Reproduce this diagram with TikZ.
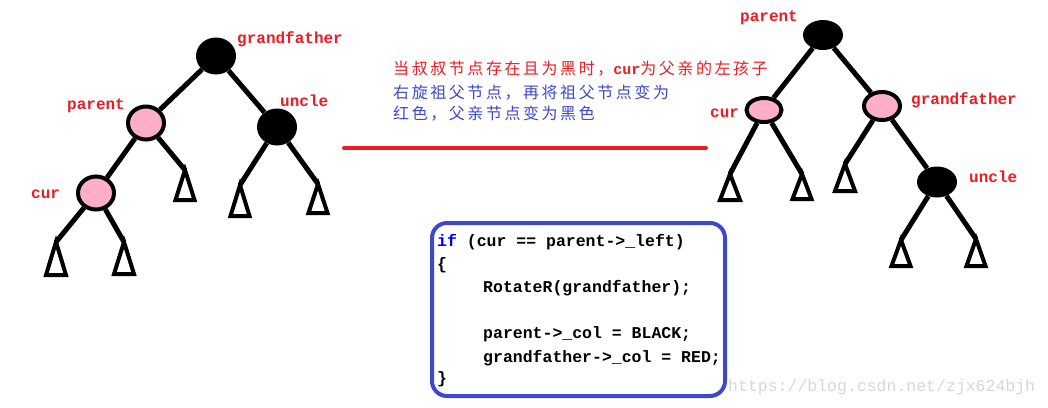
\documentclass[tikz,border=0pt]{standalone}
\usepackage{fontspec}
\usetikzlibrary{shapes.geometric}
\newfontfamily\cjk[LetterSpace=16]{Noto Sans CJK SC}
\newfontfamily\mono{Liberation Mono}
\definecolor{pred}{RGB}{237,28,36}
\definecolor{pblue}{RGB}{63,72,204}
\definecolor{ppink}{RGB}{255,174,201}
\definecolor{kwblue}{RGB}{0,0,255}
\definecolor{wmgray}{RGB}{215,215,215}
\begin{document}
\begin{tikzpicture}[x=1pt,y=-1pt,
  pinknode/.style={ellipse, draw=black, fill=ppink, line width=4pt, inner sep=0pt},
  blacknode/.style={ellipse, fill=black, inner sep=0pt},
  edge/.style={line width=5pt},
  tri/.style={draw=black, fill=white, line width=4pt, line join=miter},
  lbl/.style={text=pred, font=\mono\bfseries\fontsize{16}{16}\selectfont, inner sep=0pt, anchor=west},
  cjkline/.style={font=\cjk\fontsize{16}{16}\selectfont, inner sep=0pt, anchor=west},
  code/.style={font=\mono\bfseries\fontsize{16.5}{16.5}\selectfont, inner sep=0pt, anchor=west, text height=11pt, text depth=3pt},
  redline/.style={draw=pred, line width=4pt, line cap=round},
  codebox/.style={draw=pblue, line width=4pt, rounded corners=15pt, inner sep=0pt}
]
\useasboundingbox (0,0) rectangle (1048,407);
\fill[white] (0,0) rectangle (1048,407);

% ---------- left tree ----------
\node[blacknode, minimum width=40pt, minimum height=37pt] (gf) at (216,56) {};
\node[pinknode, minimum width=36pt, minimum height=33pt] (par) at (146,123) {};
\node[blacknode, minimum width=40pt, minimum height=37pt] (unc) at (277,127) {};
\node[pinknode, minimum width=36pt, minimum height=33pt] (cur) at (96,193) {};

\coordinate (tpr) at (185,170);
\coordinate (tul) at (240,185);
\coordinate (tur) at (318,184);
\coordinate (tcl) at (56,242);
\coordinate (tcr) at (124,242);

\draw[edge] (gf) -- (par);
\draw[edge] (gf) -- (unc);
\draw[edge] (par) -- (cur);
\draw[edge] (par) -- (tpr);
\draw[edge] (unc) -- (tul);
\draw[edge] (unc) -- (tur);
\draw[edge] (cur) -- (tcl);
\draw[edge] (cur) -- (tcr);

\draw[tri] (tpr) -- ++(-9.5,30) -- ++(19,0) -- cycle;
\draw[tri] (tul) -- ++(-9.5,31) -- ++(19,0) -- cycle;
\draw[tri] (tur) -- ++(-9.5,29) -- ++(19,0) -- cycle;
\draw[tri] (tcl) -- ++(-10,33) -- ++(20,0) -- cycle;
\draw[tri] (tcr) -- ++(-10,32) -- ++(20,0) -- cycle;

\node[lbl] (lgf) at (237,39) {grandfather};
\node[lbl] (lpar) at (67,106) {parent};
\node[lbl] (lunc) at (280,101) {uncle};
\node[lbl] (lcur) at (31,194) {cur};

% ---------- right tree ----------
\node[blacknode, minimum width=40pt, minimum height=30pt] (p2) at (823,35) {};
\node[pinknode, minimum width=35pt, minimum height=24pt] (c2) at (764,110) {};
\node[pinknode, minimum width=36pt, minimum height=28pt] (g2) at (882,106) {};
\node[blacknode, minimum width=40pt, minimum height=31pt] (u2) at (937,182) {};

\coordinate (tc2l) at (730,174);
\coordinate (tc2r) at (802,174);
\coordinate (tg2l) at (845,164);
\coordinate (tu2l) at (901,240);
\coordinate (tu2r) at (976,239);

\draw[edge] (p2) -- (c2);
\draw[edge] (p2) -- (g2);
\draw[edge] (g2) -- (u2);
\draw[edge] (c2) -- (tc2l);
\draw[edge] (c2) -- (tc2r);
\draw[edge] (g2) -- (tg2l);
\draw[edge] (u2) -- (tu2l);
\draw[edge] (u2) -- (tu2r);

\draw[tri] (tc2l) -- ++(-10,26) -- ++(20,0) -- cycle;
\draw[tri] (tc2r) -- ++(-9.5,25) -- ++(19,0) -- cycle;
\draw[tri] (tg2l) -- ++(-10,27) -- ++(20,0) -- cycle;
\draw[tri] (tu2l) -- ++(-9.5,26) -- ++(19,0) -- cycle;
\draw[tri] (tu2r) -- ++(-9.5,27) -- ++(19,0) -- cycle;

\node[lbl] (lp2) at (740,18) {parent};
\node[lbl] (lc2) at (710,113) {cur};
\node[lbl] (lg2) at (911,100) {grandfather};
\node[lbl] (lu2) at (969,177) {uncle};

% ---------- middle text and line ----------
\node[cjkline, text=pred] (t1) at (393,69) {当叔叔节点存在且为黑时，{\mono\bfseries\fontsize{15}{15}\selectfont cur}为父亲的左孩子};
\node[cjkline, text=pblue] (t2) at (393,93) {右旋祖父节点，再将祖父节点变为};
\node[cjkline, text=pblue] (t3) at (393,114) {红色，父亲节点变为黑色};

\coordinate (rl1) at (344,148);
\coordinate (rl2) at (706,148);
\draw[redline] (rl1) -- (rl2);

% ---------- code box ----------
\node[codebox, minimum width=293pt, minimum height=173pt] (box) at (578.5,309.5) {};
\node[code] (c1) at (437,242) {\textcolor{kwblue}{if} (cur == parent->\_left)};
\node[code] (c2b) at (437,265) {\{};
\node[code] (c3) at (483,288) {RotateR(grandfather);};
\node[code] (c4) at (483,334) {parent->\_col = BLACK;};
\node[code] (c5) at (483,358) {grandfather->\_col = RED;};
\node[code] (c6) at (437,379) {\}};

% ---------- watermark ----------
\node[text=wmgray, font=\mono\fontsize{16.5}{16.5}\selectfont, inner sep=0pt, anchor=west] (wm) at (728,387) {https://blog.csdn.net/zjx624bjh};
\end{tikzpicture}
\end{document}
